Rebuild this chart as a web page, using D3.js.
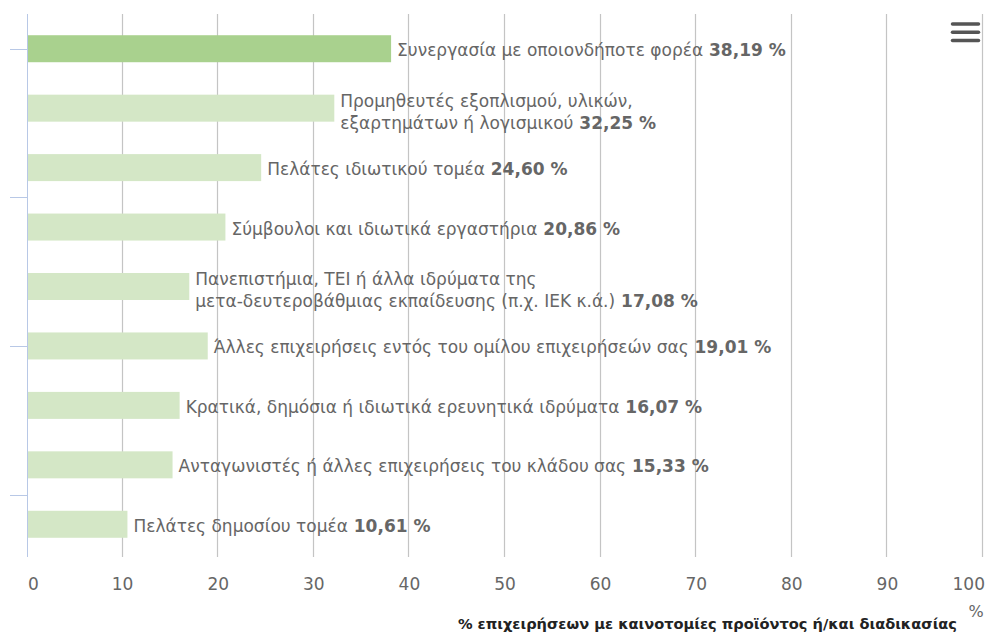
<!DOCTYPE html>
<html>
<head>
<meta charset="utf-8">
<script src="https://cdn.jsdelivr.net/npm/d3@7"></script>
<style>
body{margin:0;background:#fff;}
svg{display:block;font-family:"DejaVu Sans",Verdana,sans-serif;}
</style>
</head>
<body>
<div id="chart"></div>
<script>
// data
const categories = [
    ["Συνεργασία με οποιονδήποτε φορέα"],
    ["Προμηθευτές εξοπλισμού, υλικών,", "εξαρτημάτων ή λογισμικού"],
    ["Πελάτες ιδιωτικού τομέα"],
    ["Σύμβουλοι και ιδιωτικά εργαστήρια"],
    ["Πανεπιστήμια, ΤΕΙ ή άλλα ιδρύματα της", "μετα-δευτεροβάθμιας εκπαίδευσης (π.χ. ΙΕΚ κ.ά.)"],
    ["Άλλες επιχειρήσεις εντός του ομίλου επιχειρήσεών σας"],
    ["Κρατικά, δημόσια ή ιδιωτικά ερευνητικά ιδρύματα"],
    ["Ανταγωνιστές ή άλλες επιχειρήσεις του κλάδου σας"],
    ["Πελάτες δημοσίου τομέα"]
];
const values = [38.19, 32.25, 24.60, 20.86, 17.08, 19.01, 16.07, 15.33, 10.61];
const xTicks = [0,10,20,30,40,50,60,70,80,90,100];
const yTicks = [0, 2.5, 5, 7.5];
const axisTitle = "% επιχειρήσεων με καινοτομίες προϊόντος ή/και διαδικασίας";

const width = 987, height = 634;
const plotLeft = 27, plotRight = 983, plotTop = 19, plotBottom = 554;

const svg = d3.select("#chart").append("svg")
    .attr("width",width)
    .attr("height",height);

const x = d3.scaleLinear().domain([0,100]).range([plotLeft,plotRight]);
const band = (plotBottom-plotTop)/categories.length;
const yc = d3.scaleLinear().domain([0,categories.length-1]).range([plotTop+band/2,plotBottom-band/2]);

// grid
svg.append("g").selectAll("line")
    .data(xTicks.slice(1))
    .enter().append("line")
    .attr("x1",d=>Math.round(x(d))-0.5).attr("x2",d=>Math.round(x(d))-0.5)
    .attr("y1",14).attr("y2",557)
    .attr("stroke","#c4c4c4").attr("stroke-width",1.2);

// y axis line + ticks
svg.append("line")
    .attr("x1",plotLeft+0.5).attr("x2",plotLeft+0.5)
    .attr("y1",14).attr("y2",557)
    .attr("stroke","#b8c8e6");
svg.append("g").selectAll("line")
    .data(yTicks)
    .enter().append("line")
    .attr("x1",10).attr("x2",plotLeft)
    .attr("y1",d=>Math.round(yc(d))+0.5).attr("y2",d=>Math.round(yc(d))+0.5)
    .attr("stroke","#b8c8e6");

// bars
const barH = 27;
svg.append("g").selectAll("rect")
    .data(values)
    .enter().append("rect")
    .attr("x",x(0)+1)
    .attr("y",(d,i)=>yc(i)-barH/2)
    .attr("width",d=>x(d)-x(0)-2)
    .attr("height",barH)
    .attr("fill",(d,i)=>i===0?"#a9d18e":"#d4e7c6");

// labels
const lbl = svg.append("g").selectAll("text")
    .data(values)
    .enter().append("text")
    .attr("font-size",17)
    .attr("fill","#666");

lbl.each(function(d,i){
    const lines = categories[i];
    const t = d3.select(this);
    const lh = 22;
    const y0 = yc(i) + 7.5 - (lines.length-1)*9;
    lines.forEach((ln,j)=>{
        t.append("tspan")
            .attr("x",x(d)+5)
            .attr("y",y0+j*lh)
            .text(ln);
        if(j===lines.length-1){
            t.append("tspan")
                .attr("font-weight","bold")
                .text(" "+d.toFixed(2).replace(".",",")+" %");
        }
    });
});

// x tick labels (first and last kept inside the plot edges)
svg.append("g").selectAll("text")
    .data(xTicks)
    .enter().append("text")
    .attr("x",(d,i)=>i===0?x(d)+1:i===xTicks.length-1?x(d)+2:x(d))
    .attr("y",590)
    .attr("text-anchor",(d,i)=>i===0?"start":i===xTicks.length-1?"end":"middle")
    .attr("font-size",17)
    .attr("fill","#666")
    .text(d=>d);

svg.append("text")
    .attr("x",976).attr("y",617)
    .attr("text-anchor","middle")
    .attr("font-size",16)
    .attr("fill","#666")
    .text("%");

svg.append("text")
    .attr("x",957).attr("y",629)
    .attr("text-anchor","end")
    .attr("font-size",14.6)
    .attr("font-weight","bold")
    .attr("fill","#222")
    .text(axisTitle);

// menu icon
svg.append("g").selectAll("line")
    .data([0,1,2])
    .enter().append("line")
    .attr("x1",952.5).attr("x2",978.5)
    .attr("y1",d=>24+d*8.3).attr("y2",d=>24+d*8.3)
    .attr("stroke","#555").attr("stroke-width",3.5)
    .attr("stroke-linecap","round");
</script>
</body>
</html>
